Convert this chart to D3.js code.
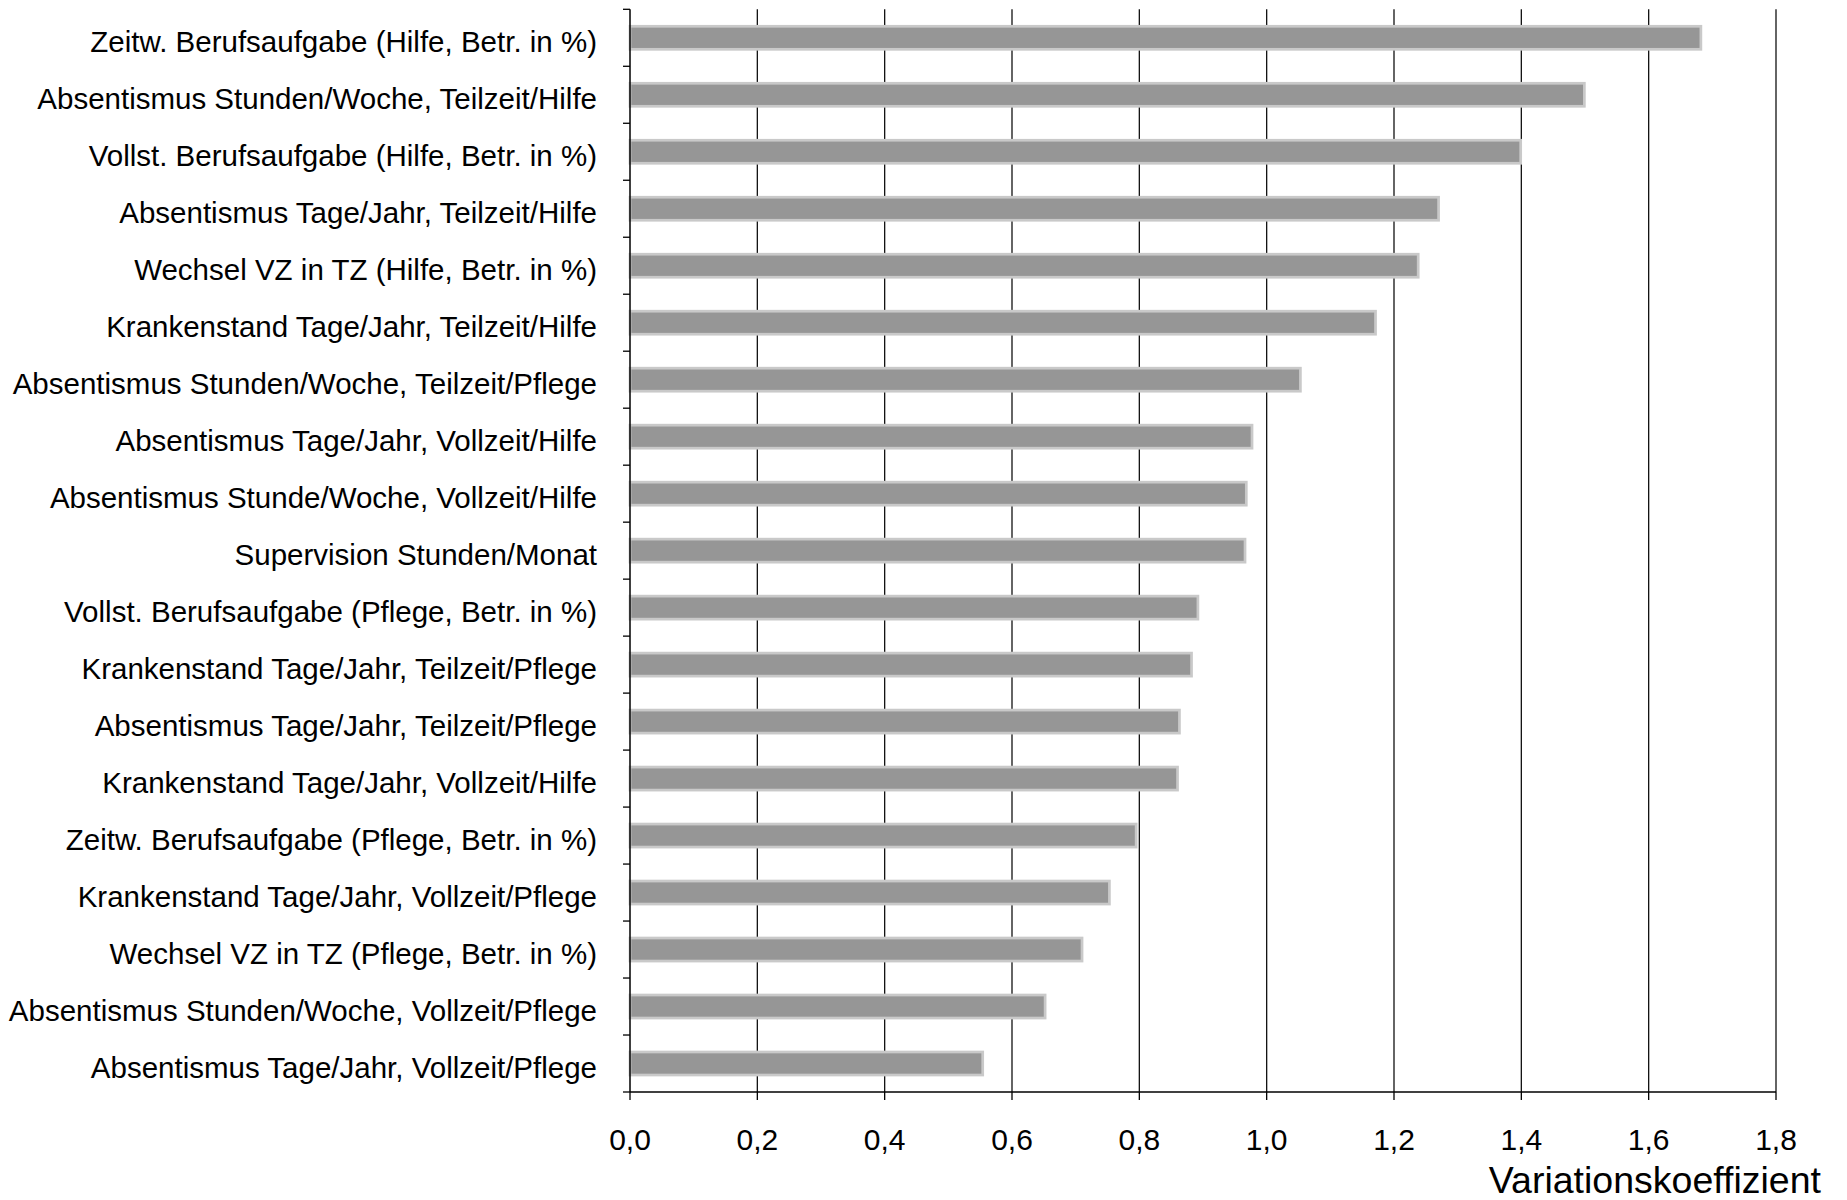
<!DOCTYPE html>
<html>
<head>
<meta charset="utf-8">
<script src="https://cdn.jsdelivr.net/npm/d3@7"></script>
<style>
  html, body { margin: 0; padding: 0; background: #fff; }
  svg { display: block; font-family: "Liberation Sans", Arial, sans-serif; }
</style>
</head>
<body>
<svg id="chart" width="1847" height="1200"></svg>
<script>
const categories = [
  "Zeitw. Berufsaufgabe (Hilfe, Betr. in %)",
  "Absentismus Stunden/Woche, Teilzeit/Hilfe",
  "Vollst. Berufsaufgabe (Hilfe, Betr. in %)",
  "Absentismus Tage/Jahr, Teilzeit/Hilfe",
  "Wechsel VZ in TZ (Hilfe, Betr. in %)",
  "Krankenstand Tage/Jahr, Teilzeit/Hilfe",
  "Absentismus Stunden/Woche, Teilzeit/Pflege",
  "Absentismus Tage/Jahr, Vollzeit/Hilfe",
  "Absentismus Stunde/Woche, Vollzeit/Hilfe",
  "Supervision Stunden/Monat",
  "Vollst. Berufsaufgabe (Pflege, Betr. in %)",
  "Krankenstand Tage/Jahr, Teilzeit/Pflege",
  "Absentismus Tage/Jahr, Teilzeit/Pflege",
  "Krankenstand Tage/Jahr, Vollzeit/Hilfe",
  "Zeitw. Berufsaufgabe (Pflege, Betr. in %)",
  "Krankenstand Tage/Jahr, Vollzeit/Pflege",
  "Wechsel VZ in TZ (Pflege, Betr. in %)",
  "Absentismus Stunden/Woche, Vollzeit/Pflege",
  "Absentismus Tage/Jahr, Vollzeit/Pflege"
];
const values = [1.682, 1.499, 1.399, 1.270, 1.238, 1.171, 1.053, 0.977, 0.968, 0.966,
                0.892, 0.882, 0.863, 0.860, 0.795, 0.753, 0.710, 0.652, 0.554];
const xTicks = [0, 0.2, 0.4, 0.6, 0.8, 1.0, 1.2, 1.4, 1.6, 1.8];
const xTickLabels = ["0,0", "0,2", "0,4", "0,6", "0,8", "1,0", "1,2", "1,4", "1,6", "1,8"];
const xTitle = "Variationskoeffizient";

(function () {
const svg = d3.select("#chart");
const pLeft = 630, pRight = 1776, pTop = 9.3, pBottom = 1092;

const x = d3.scaleLinear().domain([0, 1.8]).range([pLeft, pRight]);
const y = d3.scaleBand().domain(categories).range([pTop, pBottom])
  .paddingInner(0.596).paddingOuter(0.298);

// gridlines
svg.append("g").selectAll("line").data(xTicks.filter(d => d > 0)).join("line")
  .attr("x1", d => x(d)).attr("x2", d => x(d))
  .attr("y1", pTop).attr("y2", pBottom)
  .attr("stroke", "#111").attr("stroke-width", 1.3);

// bars
svg.append("g").selectAll("rect").data(values).join("rect")
  .attr("x", x(0))
  .attr("y", (d, i) => y(categories[i]))
  .attr("width", d => x(d) - x(0))
  .attr("height", y.bandwidth())
  .attr("fill", "#969696")
  .attr("stroke", "#c9c9c9")
  .attr("stroke-width", 2.7);

// y axis line
svg.append("line").attr("x1", pLeft).attr("x2", pLeft).attr("y1", pTop).attr("y2", pBottom)
  .attr("stroke", "#000").attr("stroke-width", 1.5);
// y ticks at band boundaries
const boundaries = d3.range(categories.length + 1).map(i => pTop + i * y.step());
svg.append("g").selectAll("line").data(boundaries).join("line")
  .attr("x1", pLeft - 7).attr("x2", pLeft)
  .attr("y1", d => d).attr("y2", d => d)
  .attr("stroke", "#000").attr("stroke-width", 1.3);

// x axis line
svg.append("line").attr("x1", pLeft).attr("x2", pRight).attr("y1", pBottom).attr("y2", pBottom)
  .attr("stroke", "#000").attr("stroke-width", 1.5);
svg.append("g").selectAll("line").data(xTicks).join("line")
  .attr("x1", d => x(d)).attr("x2", d => x(d))
  .attr("y1", pBottom).attr("y2", pBottom + 8)
  .attr("stroke", "#000").attr("stroke-width", 1.3);

// x tick labels
svg.append("g").selectAll("text").data(xTicks).join("text")
  .attr("x", d => x(d)).attr("y", 1150)
  .attr("text-anchor", "middle")
  .attr("font-size", 30).attr("fill", "#000")
  .text((d, i) => xTickLabels[i]);

// category labels
svg.append("g").selectAll("text").data(categories).join("text")
  .attr("x", 597)
  .attr("y", d => y(d) + y.bandwidth() / 2 + 4)
  .attr("dy", "0.36em")
  .attr("text-anchor", "end")
  .attr("font-size", 29.5).attr("fill", "#000")
  .text(d => d);

// axis title
svg.append("text").attr("x", 1821).attr("y", 1193)
  .attr("text-anchor", "end").attr("font-size", 37.5).attr("fill", "#000")
  .text(xTitle);
})();
</script>
</body>
</html>
